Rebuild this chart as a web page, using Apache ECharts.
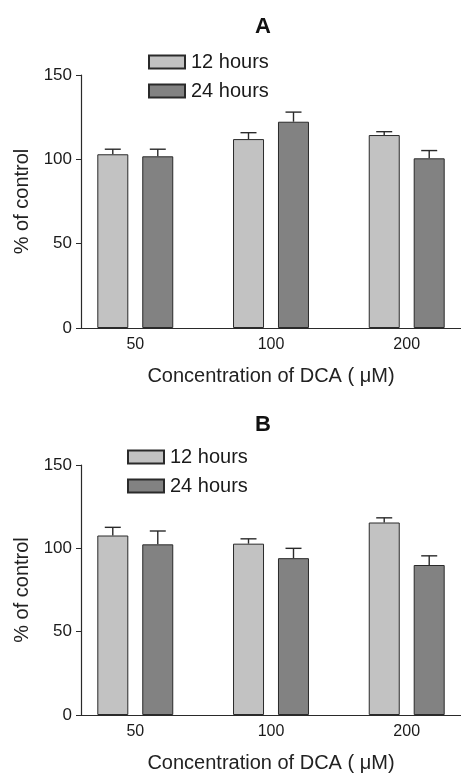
<!DOCTYPE html>
<html>
<head>
<meta charset="utf-8">
<script src="https://cdn.jsdelivr.net/npm/echarts@6/dist/echarts.min.js"></script>
<style>html,body{margin:0;padding:0;background:#fff;}#c{width:461px;height:774px;}</style>
</head>
<body>
<div id="c"></div>
<script>
var categories = ['50', '100', '200'];
var seriesNames = ['12 hours', '24 hours'];
var yTicks = [0, 50, 100, 150];
// Panel A
var a12 = [103, 112, 114.4];
var a12Err = [3, 3.8, 2];
var a24 = [101.8, 122.3, 100.6];
var a24Err = [4.2, 5.7, 4.6];
// Panel B
var b12 = [107.7, 102.8, 115.5];
var b12Err = [4.9, 2.9, 2.8];
var b24 = [102.4, 94.1, 90];
var b24Err = [8, 5.9, 5.5];

var FONT = '"Liberation Sans", Arial, sans-serif';
var LIGHT = '#c2c2c2', DARK = '#828282', EDGE = '#2a2a2a';

var chart = echarts.init(document.getElementById('c'), null, {renderer: 'canvas'});

function pts(vals) { return vals.map(function (v, i) { return [i, v]; }); }
function errPts(vals, errs) { return vals.map(function (v, i) { return [i, v, v + errs[i]]; }); }

function errSeries(gi, vals, errs, shift) {
  return {
    type: 'custom', xAxisIndex: gi, yAxisIndex: gi, silent: true, z: 1,
    data: errPts(vals, errs),
    renderItem: function (params, api) {
      var p0 = api.coord([api.value(0), api.value(1)]);
      var p1 = api.coord([api.value(0), api.value(2)]);
      var x = p0[0] + shift;
      var st = {stroke: EDGE, lineWidth: 1.4};
      return {type: 'group', children: [
        {type: 'line', shape: {x1: x, y1: p0[1], x2: x, y2: p1[1]}, style: st},
        {type: 'line', shape: {x1: x - 8, y1: p1[1], x2: x + 8, y2: p1[1]}, style: st}
      ]};
    }
  };
}
function barSeries(gi, name, vals, color) {
  return {
    type: 'bar', name: name, xAxisIndex: gi, yAxisIndex: gi, z: 2,
    barWidth: 31, barGap: '45%',
    itemStyle: {color: color, borderColor: EDGE, borderWidth: 1},
    data: pts(vals)
  };
}

var grids = [{left: 81, top: 75, width: 385, height: 253}, {left: 81, top: 465, width: 385, height: 254}];

function xAx(gi) {
  return {
    type: 'value', gridIndex: gi, min: -0.4, max: 2.4,
    name: 'Concentration of DCA ( \u03bcM)', nameLocation: 'middle', nameGap: 38,
    nameTextStyle: {fontFamily: FONT, fontSize: 20, color: '#222'},
    axisLine: {show: true, onZero: false, lineStyle: {color: EDGE, width: 1.2}},
    axisTick: {show: false},
    splitLine: {show: false},
    axisLabel: {customValues: [0, 1, 2], margin: 9, fontFamily: FONT, fontSize: 16, color: '#1a1a1a',
      formatter: function (v) { return categories[Math.round(v)]; }}
  };
}
function yAx(gi) {
  return {
    type: 'value', gridIndex: gi, min: 0, max: 150, interval: 50,
    name: '% of control', nameLocation: 'middle', nameGap: 48,
    nameTextStyle: {fontFamily: FONT, fontSize: 20, color: '#222'},
    axisLine: {show: true, onZero: false, lineStyle: {color: EDGE, width: 1.2}},
    axisTick: {show: true, length: 5, lineStyle: {color: EDGE}},
    splitLine: {show: false},
    axisLabel: {margin: 9, fontFamily: FONT, fontSize: 17, color: '#1a1a1a',
      formatter: function (v) { return yTicks.indexOf(v) >= 0 ? String(v) : ''; }}
  };
}
function legend(left, top) {
  return {
    left: left, top: top, orient: 'vertical', padding: 0, itemWidth: 36, itemHeight: 13, itemGap: 9,
    data: seriesNames, icon: 'rect', selectedMode: false,
    textStyle: {fontFamily: FONT, fontSize: 20, color: '#1a1a1a', padding: [0, 0, 0, 1]}
  };
}

chart.setOption({
  animation: false,
  backgroundColor: '#fff',
  title: [
    {text: 'A', left: 258, top: 11, textAlign: 'center', textStyle: {fontFamily: FONT, fontSize: 22, fontWeight: 'bold', color: '#111'}},
    {text: 'B', left: 258, top: 409, textAlign: 'center', textStyle: {fontFamily: FONT, fontSize: 22, fontWeight: 'bold', color: '#111'}}
  ],
  legend: [legend(148, 52), legend(127, 447)],
  grid: grids,
  xAxis: [xAx(0), xAx(1)],
  yAxis: [yAx(0), yAx(1)],
  series: [
    barSeries(0, seriesNames[0], a12, LIGHT),
    barSeries(0, seriesNames[1], a24, DARK),
    errSeries(0, a12, a12Err, -22.5),
    errSeries(0, a24, a24Err, 22.5),
    barSeries(1, seriesNames[0], b12, LIGHT),
    barSeries(1, seriesNames[1], b24, DARK),
    errSeries(1, b12, b12Err, -22.5),
    errSeries(1, b24, b24Err, 22.5)
  ]
});
</script>
</body>
</html>
